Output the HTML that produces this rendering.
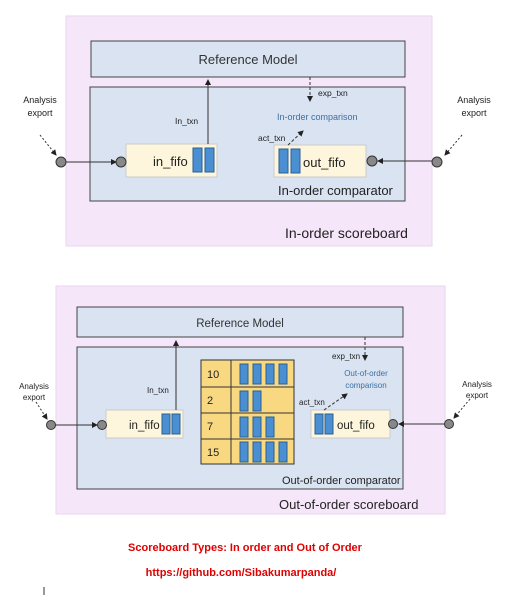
<!DOCTYPE html>
<html><head><style>
html,body{margin:0;padding:0;background:#fff;width:526px;height:595px;overflow:hidden}
text{font-family:"Liberation Sans",sans-serif}
</style></head><body>
<svg width="526" height="595" viewBox="0 0 526 595" xmlns="http://www.w3.org/2000/svg">
<defs>
<marker id="a" markerWidth="6" markerHeight="6" refX="5" refY="3" orient="auto"><path d="M0,0 L6,3 L0,6z" fill="#222"/></marker>
</defs>
<!-- TOP -->
<rect x="66" y="16" width="366" height="230" fill="#f6e6fa" stroke="#ead6ef"/>
<rect x="91" y="41" width="314" height="36" fill="#d9e3f1" stroke="#444"/>
<text x="248" y="64" font-size="13" text-anchor="middle" fill="#333">Reference Model</text>
<rect x="90" y="87" width="315" height="114" fill="#d9e3f1" stroke="#444"/>
<rect x="126" y="144" width="91" height="33" fill="#fdf6dc" stroke="#ccc"/>
<text x="153" y="166" font-size="13" fill="#222">in_fifo</text>
<rect x="193" y="148" width="9" height="24" fill="#4a8fd1" stroke="#2a5f95"/>
<rect x="205" y="148" width="9" height="24" fill="#4a8fd1" stroke="#2a5f95"/>
<rect x="274" y="145" width="92" height="32" fill="#fdf6dc" stroke="#ccc"/>
<rect x="279" y="149" width="9" height="24" fill="#4a8fd1" stroke="#2a5f95"/>
<rect x="291" y="149" width="9" height="24" fill="#4a8fd1" stroke="#2a5f95"/>
<text x="303" y="167" font-size="13" fill="#222">out_fifo</text>
<text x="278" y="195" font-size="13" fill="#222">In-order comparator</text>
<text x="285" y="238" font-size="14" fill="#222">In-order scoreboard</text>
<line x1="208" y1="144" x2="208" y2="80" stroke="#333" marker-end="url(#a)"/>
<text x="175" y="124" font-size="8.5" fill="#222">In_txn</text>
<line x1="310" y1="77" x2="310" y2="101" stroke="#333" stroke-dasharray="3,2" marker-end="url(#a)"/>
<text x="318" y="96" font-size="8.5" fill="#222">exp_txn</text>
<text x="277" y="120" font-size="9" fill="#3e6fa3">In-order comparison</text>
<line x1="288" y1="145" x2="303" y2="131" stroke="#333" stroke-dasharray="3,2" marker-end="url(#a)"/>
<text x="258" y="141" font-size="8.5" fill="#222">act_txn</text>
<line x1="61" y1="162" x2="116" y2="162" stroke="#333" marker-end="url(#a)"/>
<line x1="437" y1="161" x2="378" y2="161" stroke="#333" marker-end="url(#a)"/>
<line x1="40" y1="135" x2="56" y2="155" stroke="#333" stroke-dasharray="2,2" marker-end="url(#a)"/>
<line x1="462" y1="135" x2="445" y2="155" stroke="#333" stroke-dasharray="2,2" marker-end="url(#a)"/>
<circle cx="61" cy="162" r="5" fill="#888" stroke="#333"/>
<circle cx="121" cy="162" r="5" fill="#888" stroke="#333"/>
<circle cx="372" cy="161" r="5" fill="#888" stroke="#333"/>
<circle cx="437" cy="162" r="5" fill="#888" stroke="#333"/>
<text x="40" y="103" font-size="9" text-anchor="middle" fill="#222">Analysis</text>
<text x="40" y="116" font-size="9" text-anchor="middle" fill="#222">export</text>
<text x="474" y="103" font-size="9" text-anchor="middle" fill="#222">Analysis</text>
<text x="474" y="116" font-size="9" text-anchor="middle" fill="#222">export</text>
<!-- BOTTOM -->
<rect x="56" y="286" width="389" height="228" fill="#f6e6fa" stroke="#ead6ef"/>
<rect x="77" y="307" width="326" height="30" fill="#d9e3f1" stroke="#444"/>
<text x="240" y="327" font-size="11.5" text-anchor="middle" fill="#333">Reference Model</text>
<rect x="77" y="347" width="326" height="142" fill="#d9e3f1" stroke="#444"/>
<rect x="106" y="410" width="77" height="28" fill="#fdf6dc" stroke="#ccc"/>
<text x="129" y="429" font-size="11.5" fill="#222">in_fifo</text>
<rect x="162" y="414" width="8" height="20" fill="#4a8fd1" stroke="#2a5f95"/>
<rect x="172" y="414" width="8" height="20" fill="#4a8fd1" stroke="#2a5f95"/>
<rect x="311" y="410" width="79" height="28" fill="#fdf6dc" stroke="#ccc"/>
<rect x="315" y="414" width="8" height="20" fill="#4a8fd1" stroke="#2a5f95"/>
<rect x="325" y="414" width="8" height="20" fill="#4a8fd1" stroke="#2a5f95"/>
<text x="337" y="429" font-size="11.5" fill="#222">out_fifo</text>
<rect x="201" y="360" width="93" height="104" fill="#f8d880" stroke="#333"/>
<line x1="231" y1="360" x2="231" y2="464" stroke="#333"/>
<line x1="201" y1="387" x2="294" y2="387" stroke="#333"/>
<line x1="201" y1="413" x2="294" y2="413" stroke="#333"/>
<line x1="201" y1="439" x2="294" y2="439" stroke="#333"/>
<g font-size="11" fill="#222"><text x="207" y="378">10</text><text x="207" y="404">2</text><text x="207" y="430">7</text><text x="207" y="456">15</text></g>
<g fill="#4a8fd1" stroke="#2a5f95">
<rect x="240" y="364" width="8" height="20"/><rect x="253" y="364" width="8" height="20"/><rect x="266" y="364" width="8" height="20"/><rect x="279" y="364" width="8" height="20"/>
<rect x="240" y="391" width="8" height="20"/><rect x="253" y="391" width="8" height="20"/>
<rect x="240" y="417" width="8" height="20"/><rect x="253" y="417" width="8" height="20"/><rect x="266" y="417" width="8" height="20"/>
<rect x="240" y="442" width="8" height="20"/><rect x="253" y="442" width="8" height="20"/><rect x="266" y="442" width="8" height="20"/><rect x="279" y="442" width="8" height="20"/>
</g>
<text x="282" y="484" font-size="11" fill="#222">Out-of-order comparator</text>
<text x="279" y="509" font-size="13" fill="#222">Out-of-order scoreboard</text>
<line x1="176" y1="410" x2="176" y2="341" stroke="#333" marker-end="url(#a)"/>
<text x="147" y="393" font-size="8" fill="#222">In_txn</text>
<line x1="365" y1="337" x2="365" y2="360" stroke="#333" stroke-dasharray="3,2" marker-end="url(#a)"/>
<text x="332" y="359" font-size="8" fill="#222">exp_txn</text>
<text x="366" y="376" font-size="8" text-anchor="middle" fill="#3e6fa3">Out-of-order</text>
<text x="366" y="388" font-size="8" text-anchor="middle" fill="#3e6fa3">comparison</text>
<line x1="324" y1="410" x2="347" y2="394" stroke="#333" stroke-dasharray="3,2" marker-end="url(#a)"/>
<text x="299" y="405" font-size="8" fill="#222">act_txn</text>
<line x1="51" y1="425" x2="97" y2="425" stroke="#333" marker-end="url(#a)"/>
<line x1="449" y1="424" x2="399" y2="424" stroke="#333" marker-end="url(#a)"/>
<line x1="36" y1="402" x2="47" y2="419" stroke="#333" stroke-dasharray="2,2" marker-end="url(#a)"/>
<line x1="470" y1="399" x2="454" y2="418" stroke="#333" stroke-dasharray="2,2" marker-end="url(#a)"/>
<circle cx="51" cy="425" r="4.5" fill="#888" stroke="#333"/>
<circle cx="102" cy="425" r="4.5" fill="#888" stroke="#333"/>
<circle cx="393" cy="424" r="4.5" fill="#888" stroke="#333"/>
<circle cx="449" cy="424" r="4.5" fill="#888" stroke="#333"/>
<text x="34" y="389" font-size="8" text-anchor="middle" fill="#222">Analysis</text>
<text x="34" y="400" font-size="8" text-anchor="middle" fill="#222">export</text>
<text x="477" y="387" font-size="8" text-anchor="middle" fill="#222">Analysis</text>
<text x="477" y="398" font-size="8" text-anchor="middle" fill="#222">export</text>
<text x="245" y="551" font-size="11" font-weight="bold" text-anchor="middle" fill="#e00000">Scoreboard Types: In order and Out of Order</text>
<text x="241" y="576" font-size="11" font-weight="bold" text-anchor="middle" fill="#e00000">https://github.com/Sibakumarpanda/</text>
<line x1="44" y1="587" x2="44" y2="595" stroke="#333"/>
</svg>
</body></html>
